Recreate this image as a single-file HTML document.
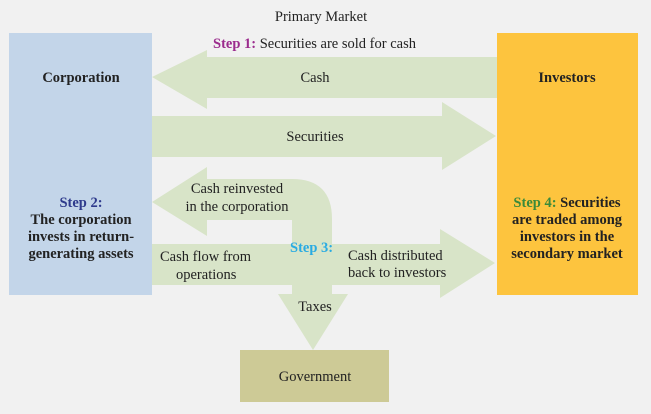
<!DOCTYPE html>
<html><head><style>
body{margin:0;background:#f1f1f1;}
svg{display:block;font-family:"Liberation Serif",serif;}
</style></head><body>
<svg width="651" height="414" viewBox="0 0 651 414">
<rect width="651" height="414" fill="#f1f1f1"/>
<rect x="9" y="33" width="143" height="262" fill="#c3d5e9"/>
<rect x="497" y="33" width="141" height="262" fill="#fdc43e"/>
<rect x="240" y="350" width="149" height="52" fill="#cdca96"/>
<g fill="#d8e4c8">
<polygon points="497,57 207,57 207,50 152,77 207,109 207,98 497,98"/>
<polygon points="152,116 442,116 442,102 496,136 442,170 442,157 152,157"/>
<path d="M152,202 L207,167 L207,179 L292,179 Q332,179 332,219 L332,244 L292,244 L292,220 L207,220 L207,236 Z"/>
<polygon points="152,244 440,244 440,229 495,263 440,298 440,285 152,285"/>
<polygon points="292,284 332,284 332,294 348,294 313,350 278,294 292,294"/>
</g>
<g font-size="14.5" fill="#222">
<text x="321" y="21" text-anchor="middle">Primary Market</text>
<text x="213" y="48"><tspan fill="#9b2b8d" font-weight="bold">Step 1:</tspan> Securities are sold for cash</text>
<text x="81" y="82" text-anchor="middle" font-weight="bold">Corporation</text>
<text x="567" y="82" text-anchor="middle" font-weight="bold">Investors</text>
<text x="315" y="82" text-anchor="middle">Cash</text>
<text x="315" y="141" text-anchor="middle">Securities</text>
<text x="237" y="193" text-anchor="middle">Cash reinvested</text>
<text x="237" y="211" text-anchor="middle">in the corporation</text>
<text x="160" y="261">Cash flow from</text>
<text x="176" y="279">operations</text>
<text x="290" y="252" fill="#29abe2" font-weight="bold">Step 3:</text>
<text x="348" y="260">Cash distributed</text>
<text x="348" y="277">back to investors</text>
<text x="315" y="311" text-anchor="middle">Taxes</text>
<text x="315" y="381" text-anchor="middle">Government</text>
<g font-weight="bold" text-anchor="middle">
<text x="81" y="207" fill="#2e3a8c">Step 2:</text>
<text x="81" y="224">The corporation</text>
<text x="81" y="241">invests in return-</text>
<text x="81" y="258">generating assets</text>
<text x="567" y="207"><tspan fill="#3a8a3a">Step 4:</tspan> Securities</text>
<text x="567" y="224">are traded among</text>
<text x="567" y="241">investors in the</text>
<text x="567" y="258">secondary market</text>
</g>
</g>
</svg>
</body></html>
